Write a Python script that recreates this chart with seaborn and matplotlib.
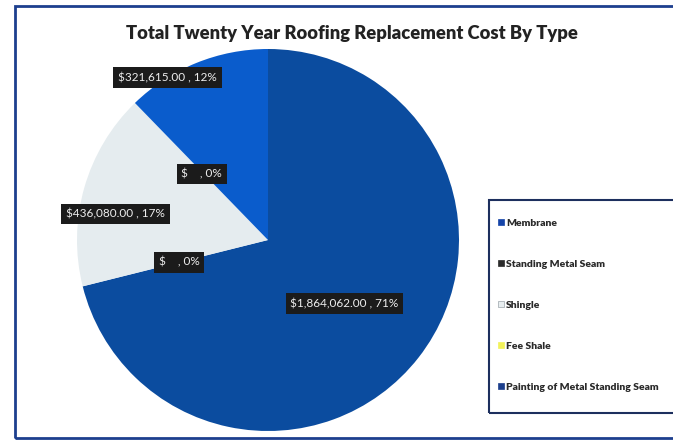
import numpy as np
import matplotlib
matplotlib.use("Agg")
import matplotlib.pyplot as plt
from matplotlib.patches import Rectangle
from matplotlib.lines import Line2D
import seaborn as sns

# Roofing cost data
categories = ["Membrane", "Standing Metal Seam", "Shingle", "Fee Shale",
              "Painting of Metal Standing Seam"]
costs = [1864062.00, 0.0, 436080.00, 0.0, 321615.00]
slice_colors = ["#0b4c9f", "#2b2b2b", "#e5ecef", "#f2f25a", "#0a5ccc"]
legend_colors = ["#1544a8", "#2b2b2b", "#e8eef0", "#f2f25a", "#1c3f8c"]
# label placement: fraction of radius and angular nudge (degrees)
label_radius = [0.52, 0.48, 0.81, 0.49, 1.0]
label_nudge = [-1.7, 0.0, 6.3, 1.0, 9.7]
title = "Total Twenty Year Roofing Replacement Cost By Type"

sns.set_theme(style="white")
plt.rcParams["font.family"] = ["Lato", "DejaVu Sans"]

W, H = 673, 442
fig = plt.figure(figsize=(W / 100, H / 100), dpi=100)
fig.patch.set_facecolor("white")

# Outer chart border
fig.patches.append(Rectangle((15 / W, 4 / H), 1.0, (438 - 6) / H,
                             transform=fig.transFigure, fill=False,
                             edgecolor="#1d3f8e", linewidth=2.0, zorder=0))

cx, cy, r = 268, 240, 191
ax = fig.add_axes([(cx - r) / W, (H - cy - r) / H, 2 * r / W, 2 * r / H])
wedges, _ = ax.pie(costs, colors=slice_colors, startangle=90,
                   counterclock=False, radius=1.0,
                   wedgeprops=dict(linewidth=0))
ax.set_xlim(-1, 1)
ax.set_ylim(-1, 1)
ax.set_aspect("equal")
ax.axis("off")

total = sum(costs)
for w, v, rr, nd in zip(wedges, costs, label_radius, label_nudge):
    mid = np.deg2rad((w.theta1 + w.theta2) / 2 + nd)
    pct = int(round(100 * v / total))
    txt = f"${v:,.2f} , {pct}%" if v > 0 else "$    , 0%"
    ax.text(rr * np.cos(mid), rr * np.sin(mid), txt, ha="center", va="center",
            color="#eeeeee", fontsize=8.5, zorder=5,
            bbox=dict(boxstyle="square,pad=0.4", facecolor="#1b1b1b",
                      edgecolor="none"))

fig.text(352 / W, 1 - 33 / H, title, ha="center", va="center",
         fontsize=13.2, fontweight="heavy", color="#222222")

# Legend box
fig.patches.append(Rectangle((489 / W, (H - 413) / H), 1.0, (413 - 200) / H,
                             transform=fig.transFigure, fill=False,
                             edgecolor="#1d2f5e", linewidth=1.5, zorder=1))
handles = [Line2D([], [], marker="s", linestyle="none", markersize=5,
                  markerfacecolor=c, markeredgecolor=c if i != 2 else "#9aa4aa",
                  markeredgewidth=0.5)
           for i, c in enumerate(legend_colors)]
leg = fig.legend(handles, categories, loc="upper left",
                 bbox_to_anchor=(493 / W, 1 - 213 / H), frameon=False,
                 fontsize=7.5, labelspacing=3.05, handlelength=0.6,
                 handletextpad=0.15, borderpad=0)
for t in leg.get_texts():
    t.set_fontweight("heavy")
    t.set_color("#2a2a2a")

fig.savefig("out.png", dpi=100, facecolor="white")
